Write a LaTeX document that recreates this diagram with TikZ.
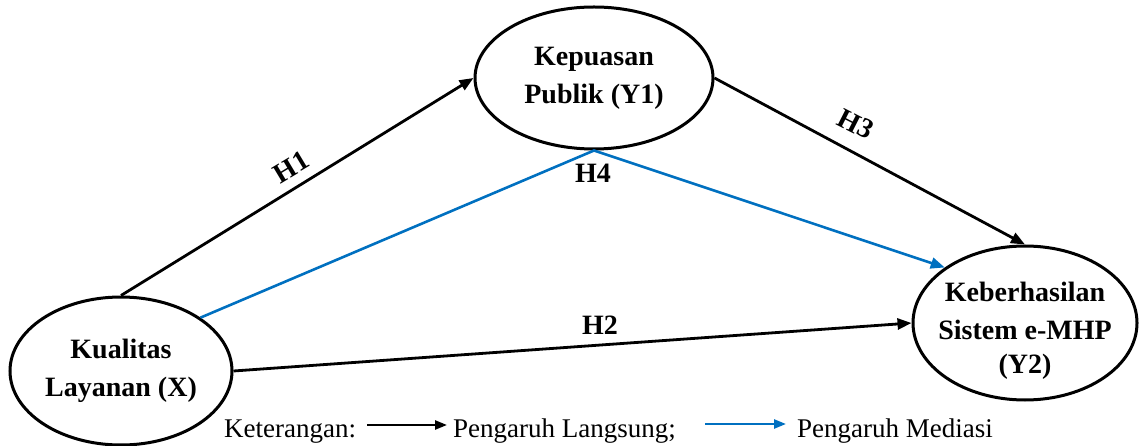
\documentclass[tikz,border=0pt]{standalone}
\usepackage{fontspec}
\setmainfont{Liberation Serif}
\usetikzlibrary{shapes.geometric,arrows.meta}
\definecolor{medblue}{RGB}{0,112,192}
\tikzset{
  var/.style={ellipse, draw=black, line width=3pt, fill=white, inner sep=0pt, align=center,
    font=\fontsize{28}{38}\selectfont\bfseries},
  vartext/.style={inner sep=0pt, align=center, font=\fontsize{28}{38}\selectfont\bfseries},
  direct/.style={line width=2.8pt, draw=black, -{Triangle[length=14pt,width=11pt]}},
  mediate/.style={line width=2.6pt, draw=medblue, -{Triangle[length=14pt,width=11pt]}},
  hlab/.style={font=\fontsize{28}{30}\selectfont\bfseries, inner sep=0pt},
  legtext/.style={font=\fontsize{27}{30}\selectfont, inner sep=0pt, anchor=base west},
}
\begin{document}
\begin{tikzpicture}[x=1pt,y=-1pt]
\useasboundingbox (0,0) rectangle (1139,446);
% nodes
\node[var, minimum width=222pt, minimum height=148pt] (X) at (121,371) {Kualitas\\Layanan (X)};
\node[var, minimum width=238pt, minimum height=142pt] (Y1) at (594,78) {Kepuasan\\Publik (Y1)};
\node[var, minimum width=224pt, minimum height=154pt] (Y2) at (1025,323) {};
\node[vartext] (Y2t) at (1025,331) {Keberhasilan\\Sistem e-MHP\\[-4pt](Y2)};
% connectors
\draw[direct] (X.north) -- (Y1.west);
\draw[direct] (Y1.east) -- (Y2.north);
\draw[direct] (X.east) -- (Y2.west);
\draw[mediate] (X.north east) -- (Y1.south) -- (Y2.north west);
% labels
\node[hlab, rotate=31] (h1) at (291,167) {H1};
\node[hlab, rotate=-27] (h3) at (856,124) {H3};
\node[hlab] (h4) at (593,173) {H4};
\node[hlab] (h2) at (600,325) {H2};
% legend
\node[legtext] (ket) at (224,437) {Keterangan:};
\coordinate (la) at (367,425);
\coordinate (lb) at (447,425);
\draw[line width=2.4pt, draw=black, -{Triangle[length=12pt,width=9pt]}] (la) -- (lb);
\node[legtext] (lang) at (453,437) {Pengaruh Langsung;};
\coordinate (ma) at (705,424);
\coordinate (mb) at (786,424);
\draw[line width=2.4pt, draw=medblue, -{Triangle[length=12pt,width=9pt]}] (ma) -- (mb);
\node[legtext] (med) at (797,437) {Pengaruh Mediasi};
\end{tikzpicture}
\end{document}
